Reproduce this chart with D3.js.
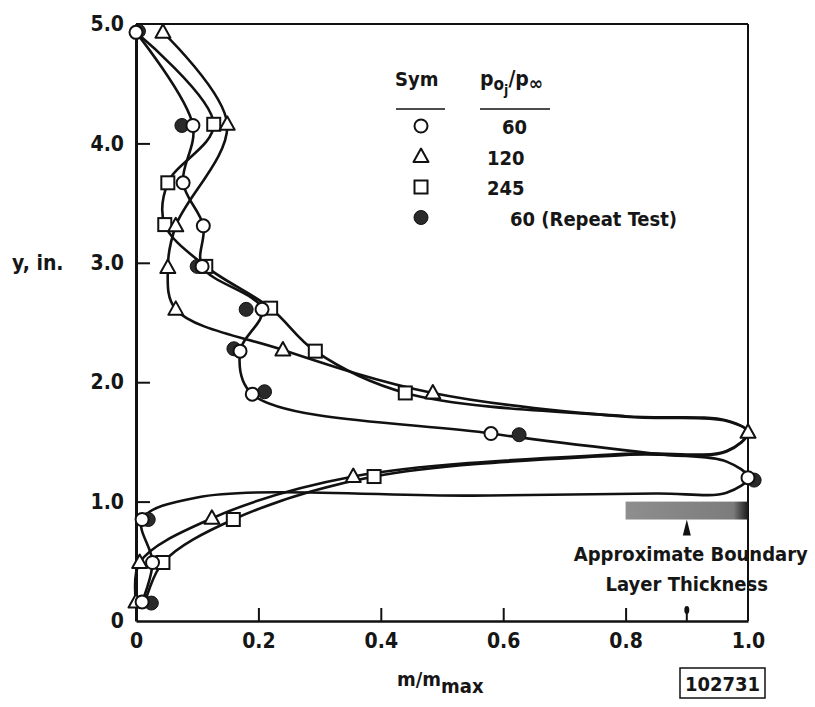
<!DOCTYPE html>
<html>
<head>
<meta charset="utf-8">
<script src="https://cdn.jsdelivr.net/npm/d3@7"></script>
<style>
  body { margin: 0; background: #fff; }
  svg text { font-family: "DejaVu Sans Condensed", "DejaVu Sans", sans-serif; fill: #161616; font-weight: bold; }
</style>
</head>
<body>
<svg id="chart" width="815" height="707"></svg>
<script>
// symbols: m/mmax (x) and y in inches, top to bottom
const open60M = [0.0, 0.093, 0.077, 0.11, 0.108, 0.206, 0.17, 0.19, 0.58, 1.0, 0.01, 0.027, 0.01];
const open60Y = [4.93, 4.15, 3.67, 3.31, 2.97, 2.61, 2.26, 1.90, 1.57, 1.20, 0.85, 0.49, 0.16];

const tri120M = [0.044, 0.149, 0.065, 0.052, 0.065, 0.24, 0.485, 1.0, 0.355, 0.124, 0.006, 0.0];
const tri120Y = [4.93, 4.16, 3.31, 2.96, 2.61, 2.27, 1.91, 1.58, 1.21, 0.86, 0.49, 0.16];

const sq245M = [0.127, 0.052, 0.047, 0.114, 0.22, 0.293, 0.44, 0.389, 0.159, 0.044];
const sq245Y = [4.16, 3.67, 3.32, 2.97, 2.62, 2.26, 1.91, 1.21, 0.85, 0.49];

const rep60M = [0.004, 0.075, 0.10, 0.18, 0.16, 0.21, 0.626, 1.01, 0.02, 0.025];
const rep60Y = [4.94, 4.15, 2.97, 2.61, 2.28, 1.92, 1.56, 1.18, 0.85, 0.15];

// faired curves as traced on the picture (they run through the symbols and round the loops at m = 1)
const line60M = [0.0, 0.093, 0.077, 0.11, 0.108, 0.206, 0.17, 0.19, 0.58, 0.85, 0.965, 1.0, 0.965, 0.85, 0.55, 0.1, 0.01, 0.027, 0.01];
const line60Y = [4.93, 4.15, 3.67, 3.31, 2.97, 2.61, 2.26, 1.90, 1.57, 1.40, 1.335, 1.20, 1.075, 1.068, 1.05, 1.035, 0.85, 0.49, 0.16];

const line120M = [0.044, 0.149, 0.065, 0.052, 0.065, 0.24, 0.485, 0.8, 0.965, 1.0, 0.965, 0.8, 0.355, 0.124, 0.006, 0.0];
const line120Y = [4.93, 4.16, 3.31, 2.96, 2.61, 2.27, 1.91, 1.71, 1.675, 1.58, 1.425, 1.40, 1.21, 0.86, 0.49, 0.16];

const line245M = [0.0, 0.127, 0.052, 0.047, 0.114, 0.22, 0.293, 0.44, 0.8, 0.965, 1.0, 0.965, 0.8, 0.389, 0.159, 0.044, 0.015];
const line245Y = [4.93, 4.16, 3.67, 3.32, 2.97, 2.62, 2.26, 1.91, 1.715, 1.68, 1.58, 1.42, 1.39, 1.21, 0.85, 0.49, 0.16];

const xTicks = [0, 0.2, 0.4, 0.6, 0.8, 1.0];
const xTickLabels = ["0", "0.2", "0.4", "0.6", "0.8", "1.0"];
const yTicks = [0, 1, 2, 3, 4, 5];
const yTickLabels = ["0", "1.0", "2.0", "3.0", "4.0", "5.0"];

const legendSyms = ["circle", "triangle", "square", "filled"];
const legendLabels = ["60", "120", "245", "60 (Repeat Test)"];

const blM = [0.8, 1.0];   // boundary layer bar extent
const blY = [0.85, 1.0];
const blArrowM = 0.9;

const svg = d3.select("#chart");

const x = d3.scaleLinear().domain([0, 1]).range([136, 748]);
const y = d3.scaleLinear().domain([0, 5]).range([621, 24]);

// gradient for the shaded boundary bar
const defs = svg.append("defs");
const grad = defs.append("linearGradient").attr("id", "blGrad");
grad.append("stop").attr("offset", "0%").attr("stop-color", "#8e8e8e");
grad.append("stop").attr("offset", "88%").attr("stop-color", "#7c7c7c");
grad.append("stop").attr("offset", "95%").attr("stop-color", "#444");
grad.append("stop").attr("offset", "100%").attr("stop-color", "#1a1a1a");

// frame: top and right
svg.append("line")
    .attr("x1", x(0)).attr("x2", x(1)).attr("y1", y(5)).attr("y2", y(5))
    .attr("stroke", "#111").attr("stroke-width", 2);
svg.append("line")
    .attr("x1", x(1)).attr("x2", x(1)).attr("y1", y(5)).attr("y2", y(0))
    .attr("stroke", "#111").attr("stroke-width", 2);

// boundary layer bar
svg.append("rect")
    .attr("x", x(blM[0])).attr("y", y(blY[1]))
    .attr("width", x(blM[1]) - x(blM[0]))
    .attr("height", y(blY[0]) - y(blY[1]))
    .attr("fill", "url(#blGrad)");
const ax = x(blArrowM);
const barBottom = y(blY[0]);
svg.append("path")
    .attr("d", `M${ax},${barBottom} L${ax + 4},${barBottom + 16} L${ax - 4},${barBottom + 16} Z`)
    .attr("fill", "#111");

// axes
const xAxis = svg.append("g")
    .attr("transform", `translate(0, ${y(0)})`)
    .call(d3.axisBottom(x).tickValues(xTicks).tickSize(-13).tickSizeOuter(0).tickPadding(12)
        .tickFormat((d, i) => xTickLabels[i]));
const yAxis = svg.append("g")
    .attr("transform", `translate(${x(0)}, 0)`)
    .call(d3.axisLeft(y).tickValues(yTicks).tickSize(-14).tickSizeOuter(0).tickPadding(12)
        .tickFormat((d, i) => yTickLabels[i]));

xAxis.select(".domain").attr("stroke", "#111").attr("stroke-width", 2.5);
yAxis.select(".domain").attr("stroke", "#111").attr("stroke-width", 3);
svg.selectAll(".tick line").attr("stroke", "#111").attr("stroke-width", 2);
yAxis.selectAll(".tick line").filter(d => d === 0 || d === 5).remove();
xAxis.selectAll(".tick line").filter(d => d === 0 || d === 1).remove();
svg.selectAll(".tick text")
    .attr("font-size", 21).attr("font-weight", "bold")
    .attr("font-family", "'DejaVu Sans Condensed', sans-serif").attr("fill", "#111");

// little pointer on the x axis at 0.9
svg.append("line")
    .attr("x1", ax).attr("x2", ax).attr("y1", y(0) - 14).attr("y2", y(0))
    .attr("stroke", "#111").attr("stroke-width", 2);
svg.append("ellipse")
    .attr("cx", ax).attr("cy", y(0) - 11).attr("rx", 2.5).attr("ry", 4)
    .attr("fill", "#111");

// curves
const line = d3.line()
    .x(d => x(d[0]))
    .y(d => y(d[1]))
    .curve(d3.curveCatmullRom.alpha(0.5));

const zip = (ms, ys) => ms.map((m, i) => [m, ys[i]]);

const curves = [zip(line245M, line245Y), zip(line120M, line120Y), zip(line60M, line60Y)];
svg.append("g").selectAll("path")
    .data(curves)
    .join("path")
    .attr("d", line)
    .attr("fill", "none")
    .attr("stroke", "#111")
    .attr("stroke-width", 2.6);

// symbols
function drawSym(g, type, cx, cy) {
    if (type === "circle") {
        g.append("circle").attr("cx", cx).attr("cy", cy).attr("r", 6.5)
            .attr("fill", "#fff").attr("stroke", "#111").attr("stroke-width", 2);
    } else if (type === "filled") {
        g.append("circle").attr("cx", cx).attr("cy", cy).attr("r", 7)
            .attr("fill", "#2a2a2a").attr("stroke", "#111").attr("stroke-width", 1);
    } else if (type === "square") {
        g.append("rect").attr("x", cx - 6.5).attr("y", cy - 6.5).attr("width", 13).attr("height", 13)
            .attr("fill", "#fff").attr("stroke", "#111").attr("stroke-width", 2);
    } else if (type === "triangle") {
        g.append("path")
            .attr("d", `M${cx},${cy - 8} L${cx + 7.5},${cy + 5.5} L${cx - 7.5},${cy + 5.5} Z`)
            .attr("fill", "#fff").attr("stroke", "#111").attr("stroke-width", 2)
            .attr("stroke-linejoin", "round");
    }
}

const symG = svg.append("g");
sq245M.forEach((m, i) => drawSym(symG, "square", x(m), y(sq245Y[i])));
tri120M.forEach((m, i) => drawSym(symG, "triangle", x(m), y(tri120Y[i])));
rep60M.forEach((m, i) => drawSym(symG, "filled", x(m), y(rep60Y[i])));
open60M.forEach((m, i) => drawSym(symG, "circle", x(m), y(open60Y[i])));

// legend
const leg = svg.append("g");
leg.append("text").attr("x", 395).attr("y", 86).attr("font-size", 20).text("Sym");
const hdr = leg.append("text").attr("x", 480).attr("y", 86).attr("font-size", 21);
hdr.append("tspan").text("p");
hdr.append("tspan").attr("dy", 4).attr("font-size", 17).text("o");
hdr.append("tspan").attr("dy", 5).attr("font-size", 14).text("j");
hdr.append("tspan").attr("dy", -9).text("/p");
hdr.append("tspan").attr("dy", 4).attr("font-size", 19).text("\u221e");
leg.append("line").attr("x1", 396).attr("x2", 445).attr("y1", 109).attr("y2", 109)
    .attr("stroke", "#111").attr("stroke-width", 1.5);
leg.append("line").attr("x1", 480).attr("x2", 550).attr("y1", 109).attr("y2", 109)
    .attr("stroke", "#111").attr("stroke-width", 1.5);
const legX = [502, 487, 487, 510];
legendSyms.forEach((s, i) => {
    const cy = 126 + i * 30.5;
    drawSym(leg, s, 421, cy);
    leg.append("text").attr("x", legX[i]).attr("y", cy + 8).attr("font-size", 20).text(legendLabels[i]);
});

// axis titles
svg.append("text").attr("x", 12).attr("y", 270).attr("font-size", 21).text("y,  in.");
const xt = svg.append("text").attr("x", 397).attr("y", 686).attr("font-size", 20);
xt.append("tspan").text("m/m");
xt.append("tspan").attr("dy", 7).attr("font-size", 20).text("max");

// boundary layer label
svg.append("text").attr("x", ax + 4).attr("y", 561).attr("text-anchor", "middle")
    .attr("font-size", 20).text("Approximate Boundary");
svg.append("text").attr("x", ax).attr("y", 591).attr("text-anchor", "middle")
    .attr("font-size", 20).text("Layer Thickness");

// figure number box
svg.append("rect").attr("x", 680).attr("y", 668).attr("width", 85).attr("height", 30)
    .attr("fill", "none").attr("stroke", "#111").attr("stroke-width", 1.5);
svg.append("text").attr("x", 722.5).attr("y", 691).attr("text-anchor", "middle")
    .attr("font-size", 20).attr("font-weight", "normal").text("102731");
</script>
</body>
</html>
